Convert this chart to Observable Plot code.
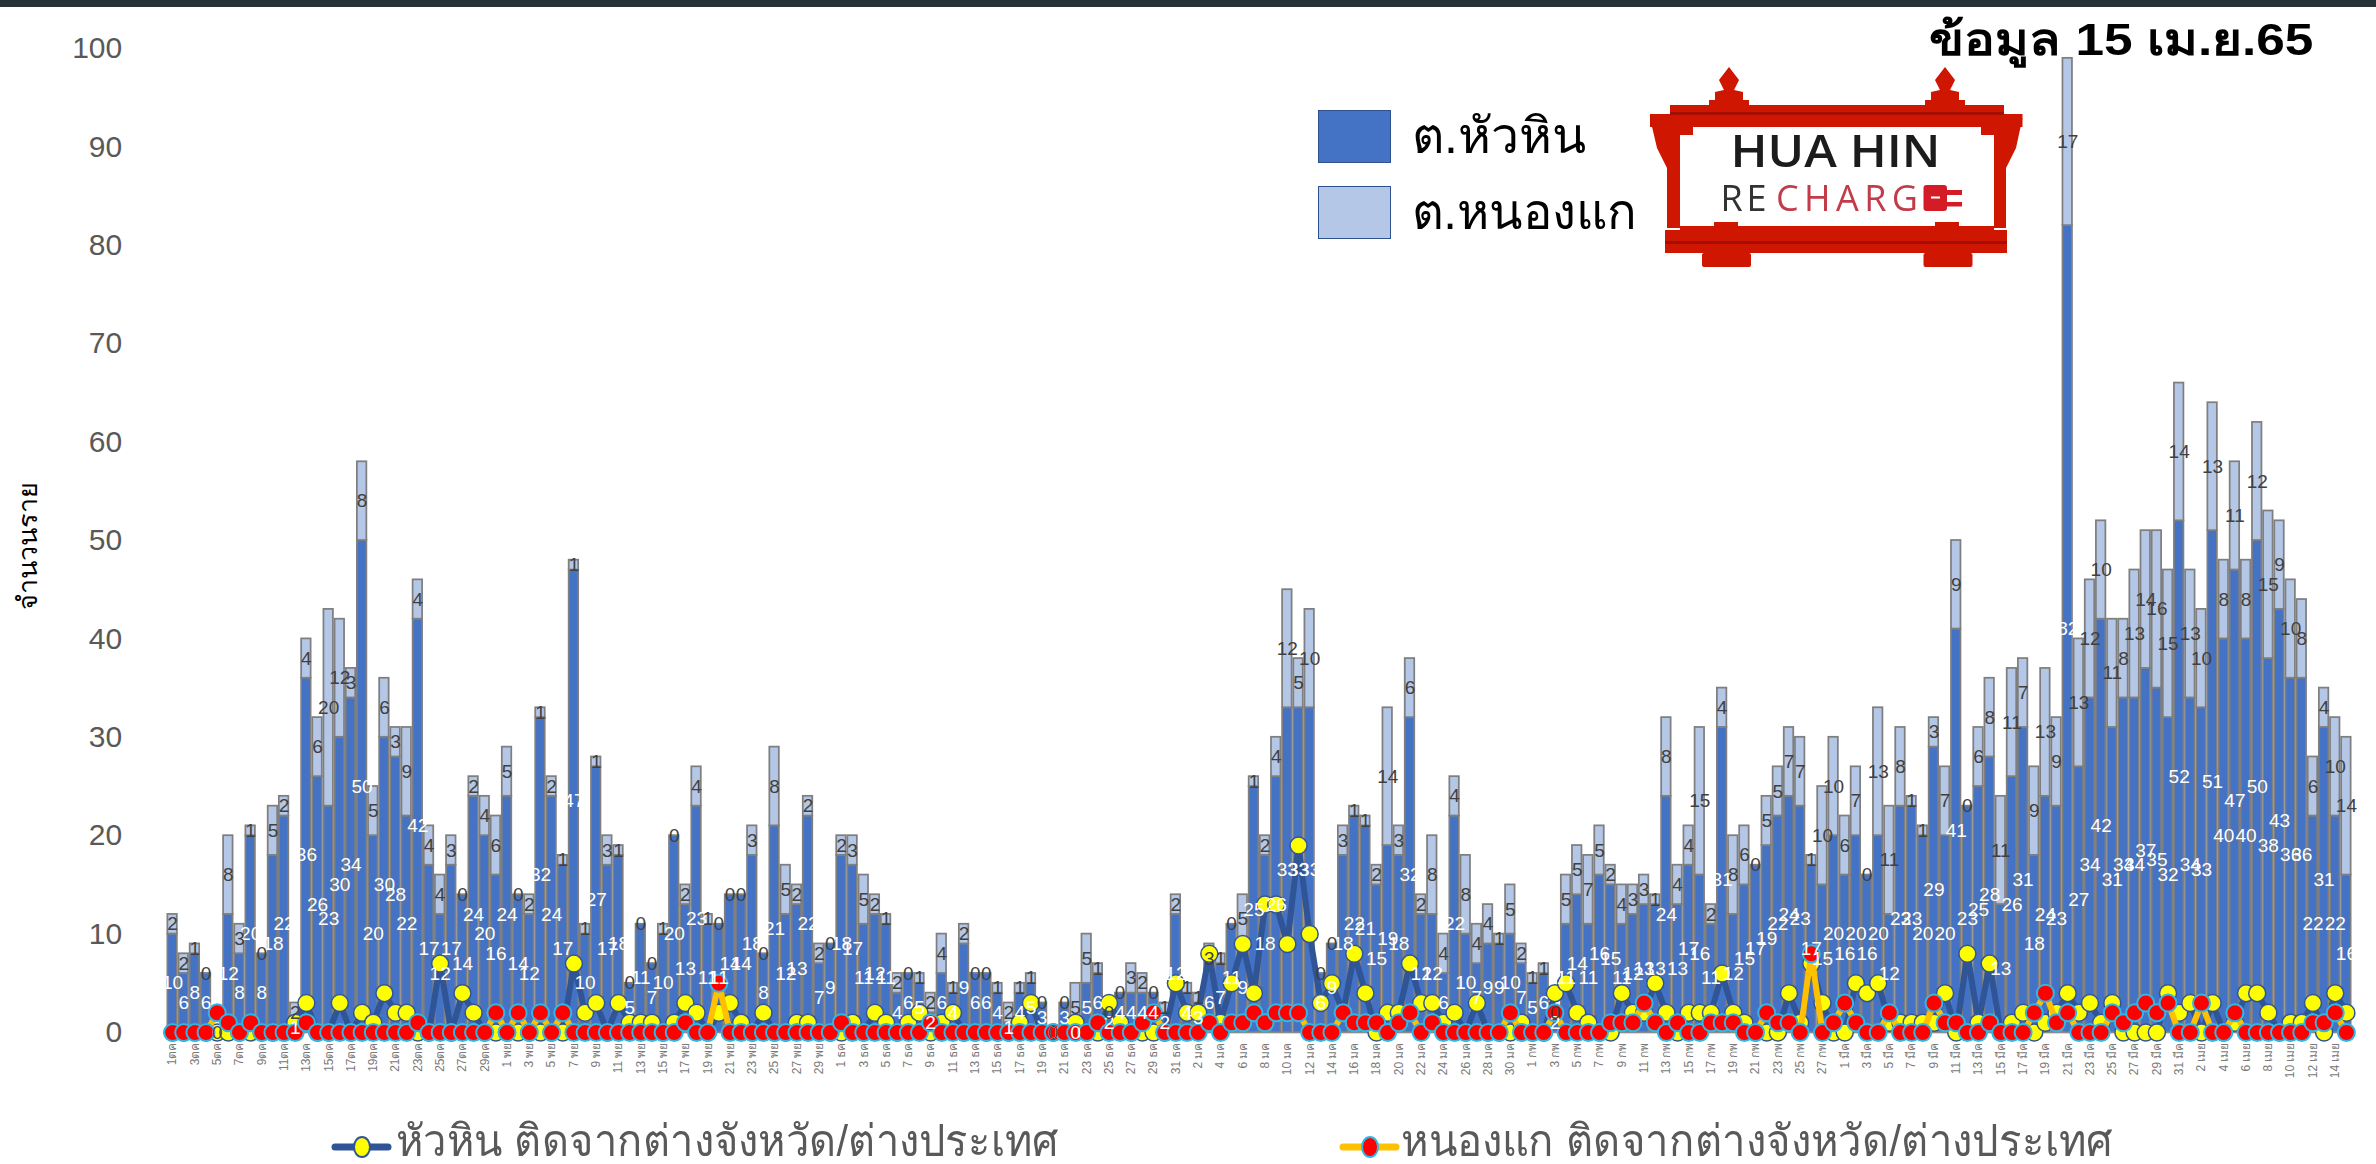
<!DOCTYPE html>
<html>
<head>
<meta charset="utf-8">
<script src="https://cdn.jsdelivr.net/npm/d3@7"></script>
<script src="https://cdn.jsdelivr.net/npm/@observablehq/plot@0.6"></script>
<style>
html,body{margin:0;padding:0;background:#fff;width:2376px;height:1164px;overflow:hidden;font-family:"Liberation Sans",Arial,sans-serif}
#wrap{position:relative;width:2376px;height:1164px}
#topbar{position:absolute;left:0;top:0;width:2376px;height:7px;background:#263238}
.abs{position:absolute;white-space:nowrap}
svg.plot{position:absolute;left:0;top:0}
</style>
</head>
<body>
<div id="wrap">
<div id="chart"></div>
<div id="topbar"></div>
<div class="abs" style="left:1929px;top:12px;font-size:45px;font-weight:bold;color:#000;line-height:56px;transform:scaleX(1.14);transform-origin:left top">ข้อมูล 15 เม.ย.65</div>
<div class="abs" style="left:1318px;top:110px;width:71px;height:51px;background:#4472c4;border:1.5px solid #2f528f"></div>
<div class="abs" style="left:1318px;top:186px;width:71px;height:51px;background:#b4c7e7;border:1.5px solid #2f528f"></div>
<div class="abs" style="left:1412px;top:104px;font-size:50px;color:#000;line-height:64px">ต.หัวหิน</div>
<div class="abs" style="left:1412px;top:180px;font-size:50px;color:#000;line-height:64px;transform:scaleX(0.98);transform-origin:left top">ต.หนองแก</div>
<svg class="abs" style="left:1640px;top:60px" width="392" height="215" viewBox="1640 60 392 215">
  <defs><filter id="soft"><feGaussianBlur stdDeviation="0.7"/></filter>
    <g id="spire"><polygon points="1729,67 1739,80 1734,90 1743,92 1743,100 1749,100 1749,107 1709,107 1709,100 1715,100 1715,92 1724,90 1719,80"/></g>
    <g id="foot"><rect x="1714" y="222" width="24" height="32"/><rect x="1702" y="253" width="49" height="14" rx="2"/></g>
  </defs>
  <g filter="url(#soft)">
  <g fill="#cf1206">
    <use href="#spire"/><use href="#spire" x="216"/>
    <rect x="1670" y="105" width="334" height="10"/>
    <rect x="1650" y="114" width="372.5" height="13"/>
    <polygon points="1650,118 1680,118 1680,228 1667,228 1667,168 1657,148"/>
    <polygon points="2022.5,118 1994,118 1994,228 2006,228 2006,168 2016,148"/>
    <rect x="1665" y="230" width="342" height="23"/>
    <rect x="1680" y="226" width="314" height="6"/>
    <use href="#foot"/><use href="#foot" x="221.5"/>
  </g>
  <rect x="1670" y="112" width="334" height="3" fill="#a50e06"/>
  <rect x="1665" y="241" width="342" height="3" fill="#a50e06"/>
  <polygon points="1680,127 1994,127 1994,226 1680,226" fill="#fff"/>
  <rect x="1680" y="127" width="13" height="8" fill="#cf1206"/>
  <rect x="1981" y="127" width="13" height="8" fill="#cf1206"/>
  <rect x="1714" y="222" width="24" height="5" fill="#cf1206"/>
  <rect x="1935" y="222" width="24" height="5" fill="#cf1206"/>
  <text x="1730.5" y="167" textLength="210" lengthAdjust="spacingAndGlyphs" font-family="Open Sans" font-weight="600" font-size="45" fill="#1a1a1a">HUA HIN</text>
  <text x="1720.5" y="211" textLength="46" font-family="Open Sans" font-size="36" fill="#333">RE</text>
  <text x="1776" y="211" textLength="142" font-family="Open Sans" font-size="36" fill="#c23b4a">CHARG</text>
  <rect x="1923.5" y="185" width="23.5" height="26" rx="3" fill="#d41f26"/>
  <rect x="1947" y="190" width="15" height="5" fill="#d41f26"/>
  <rect x="1947" y="202" width="15" height="4.5" fill="#d41f26"/>
  <rect x="1931" y="196.5" width="9" height="2" fill="#fff"/>
  </g>
</svg>
<svg class="abs" style="left:330px;top:1133px" width="64" height="28"><line x1="5" y1="14" x2="58" y2="14" stroke="#2f5597" stroke-width="7" stroke-linecap="round"/><ellipse cx="32" cy="14" rx="8" ry="10" fill="#ffff00" stroke="#2f5597" stroke-width="2"/></svg>
<div class="abs" style="left:396px;top:1113px;font-size:44px;color:#595959;line-height:56px;transform:scaleX(0.945);transform-origin:left top">หัวหิน ติดจากต่างจังหวัด/ต่างประเทศ</div>
<svg class="abs" style="left:1338px;top:1133px" width="64" height="28"><line x1="5" y1="14" x2="58" y2="14" stroke="#ffc000" stroke-width="7" stroke-linecap="round"/><ellipse cx="32" cy="14" rx="8" ry="10" fill="#ff0000" stroke="#2fb8e6" stroke-width="2"/></svg>
<div class="abs" style="left:1401px;top:1113px;font-size:44px;color:#595959;line-height:56px;transform:scaleX(0.95);transform-origin:left top">หนองแก ติดจากต่างจังหวัด/ต่างประเทศ</div>
</div>
<script>
const huaHin = [10,6,8,6,0,12,8,20,8,18, 22,1,36,26,23,30,34,50,20,30, 28,22,42,17,12,17,14,24,20,16,
  24,14,12,32,24,17,47,10,27,17, 18,5,11,7,10,20,13,23,11,11, 14,14,18,8,21,12,13,22,7,9,
  18,17,11,12,11,4,6,5,2,6, 4,9,6,6,4,1,4,5,3,0, 3,0,5,6,2,4,4,4,4,2,
  12,4,3,6,7,11,9,25,18,26, 33,33,33,6,9,18,22,21,15,19, 18,32,12,12,6,22,10,7,9,9,
  10,7,5,6,2,11,14,11,16,15, 11,12,13,13,24,13,17,16,11,31, 12,15,17,19,22,24,23,17,15,20,
  16,20,16,20,12,23,23,20,29,20, 41,23,25,28,13,26,31,18,24,23, 82,27,34,42,31,34,34,37,35,32,
  52,34,33,51,40,47,40,50,38,43, 36,36,22,31,22,16];
const nongKae = [2,2,1,0,0,8,3,1,0,5, 2,2,4,6,20,12,3,8,5,6, 3,9,4,4,4,3,0,2,4,6,
  5,0,2,1,2,1,1,1,1,3, 1,0,0,0,1,0,2,4,1,0, 0,0,3,0,8,5,2,2,2,0,
  2,3,5,2,1,2,0,1,2,4, 1,2,0,0,1,2,1,1,0,0, 0,5,5,1,0,0,3,2,0,1,
  2,1,1,3,1,0,5,1,2,4, 12,5,10,0,0,3,1,1,2,14, 3,6,2,8,4,4,8,4,4,1,
  5,2,1,1,0,5,5,7,5,2, 4,3,3,1,8,4,4,15,2,4, 8,6,0,5,5,7,7,1,10,10,
  6,7,0,13,11,8,1,1,3,7, 9,0,6,8,11,11,7,9,13,9, 17,13,12,10,11,8,13,14,16,15,
  14,13,10,13,8,11,8,12,15,9, 10,8,6,4,10,14];
const huaHinImported = [0,0,0,0,0,0,0,0,0,0, 0,1,3,0,0,3,0,2,1,4, 2,2,0,0,7,0,4,2,0,0,
  0,0,0,0,0,0,7,2,3,0, 3,1,1,1,0,1,3,2,0,2, 3,1,0,2,0,0,1,1,0,0,
  0,1,0,2,1,0,1,2,0,1, 2,0,0,0,0,0,1,3,0,0, 0,1,0,0,3,1,0,0,0,0,
  5,2,2,8,1,5,9,4,13,13, 9,19,10,3,5,2,8,4,0,2, 2,7,3,3,1,2,0,3,0,0,
  0,1,0,0,4,5,2,1,0,0, 4,2,2,5,2,0,2,2,2,6, 2,1,0,0,0,4,1,7,3,0,
  0,5,4,5,1,1,1,1,1,4, 0,8,1,7,0,1,2,0,1,2, 4,2,3,1,3,0,0,0,0,4,
  2,3,0,3,0,1,4,4,2,0, 1,1,3,0,4,2];
const nongKaeImported = [0,0,0,0,2,1,0,1,0,0, 0,0,1,0,0,0,0,0,0,0, 0,0,1,0,0,0,0,0,0,2,
  0,2,0,2,0,2,0,0,0,0, 0,0,0,0,0,0,1,0,0,5, 0,0,0,0,0,0,0,0,0,0,
  1,0,0,0,0,0,0,0,1,0, 0,0,0,0,0,0,0,0,0,0, 0,0,0,1,0,0,0,1,2,0,
  0,0,0,1,0,1,1,2,1,2, 2,2,0,0,0,2,1,1,1,0, 1,2,0,1,0,0,0,0,0,0,
  2,0,0,0,2,0,0,0,0,1, 1,1,3,1,0,1,0,0,1,1, 1,0,0,2,1,1,0,8,0,1,
  3,1,0,0,2,0,0,0,3,1, 1,0,0,1,0,0,0,2,4,1, 2,0,0,0,2,1,2,3,2,3,
  0,0,3,0,0,2,0,0,0,0, 0,0,1,1,2,0];
const tickLabels = ["1ตค","3ตค","5ตค","7ตค","9ตค","11ตค","13ตค","15ตค","17ตค","19ตค","21ตค","23ตค","25ตค","27ตค","29ตค",
  "1 พย","3 พย","5 พย","7 พย","9 พย","11 พย","13 พย","15 พย","17 พย","19 พย","21 พย","23 พย","25 พย","27 พย","29 พย",
  "1 ธค","3 ธค","5 ธค","7 ธค","9 ธค","11 ธค","13 ธค","15 ธค","17 ธค","19 ธค","21 ธค","23 ธค","25 ธค","27 ธค","29 ธค","31 ธค",
  "2 มค","4 มค","6 มค","8 มค","10 มค","12 มค","14 มค","16 มค","18 มค","20 มค","22 มค","24 มค","26 มค","28 มค","30 มค",
  "1 กพ","3 กพ","5 กพ","7 กพ","9 กพ","11 กพ","13 กพ","15 กพ","17 กพ","19 กพ","21 กพ","23 กพ","25 กพ","27 กพ",
  "1 มีค","3 มีค","5 มีค","7 มีค","9 มีค","11 มีค","13 มีค","15 มีค","17 มีค","19 มีค","21 มีค","23 มีค","25 มีค","27 มีค","29 มีค","31 มีค",
  "2 เมย","4 เมย","6 เมย","8 เมย","10 เมย","12 เมย","14 เมย"];
const yTicks = [0,10,20,30,40,50,60,70,80,90,100];
const yTitle = "จำนวนราย";

const rows = huaHin.map((h,i)=>({i,h,n:nongKae[i],hi:huaHinImported[i],ni:nongKaeImported[i]}));
const labelFont = {fontSize:19, fontFamily:"Liberation Sans"};
const chart = Plot.plot({
  width:2376, height:1164,
  marginLeft:165.7, marginRight:23.7, marginTop:48, marginBottom:132,
  style:{background:"transparent", fontFamily:"Liberation Sans"},
  x:{type:"band", domain:rows.map(d=>d.i), padding:0.15, align:0.5, round:false},
  y:{domain:[0,100]},
  marks:[
    Plot.axisY({ticks:yTicks, tickSize:0, tickPadding:44, fontSize:30, color:"#595959", label:null}),
    Plot.axisX({ticks:rows.filter(d=>d.i%2===0).map(d=>d.i), tickFormat:i=>tickLabels[i/2], tickSize:0, tickPadding:10, tickRotate:-90, fontSize:12, color:"#7a7a7a", label:null}),
    Plot.ruleY([0],{stroke:"#d9d9d9", strokeWidth:3}),
    Plot.barY(rows.filter(d=>d.h>0),{x:"i", y1:0, y2:"h", fill:"#4472c4", stroke:"#7f7f7f", strokeWidth:1.75}),
    Plot.barY(rows.filter(d=>d.n>0),{x:"i", y1:"h", y2:d=>d.h+d.n, fill:"#b4c7e7", stroke:"#7f7f7f", strokeWidth:1.75}),
    Plot.line(rows,{x:"i", y:"hi", stroke:"#2f5597", strokeWidth:6, curve:"linear"}),
    Plot.dot(rows,{x:"i", y:"hi", r:8.5, fill:"#ffff00", stroke:"#2f5597", strokeWidth:1.5}),
    Plot.line(rows,{x:"i", y:"ni", stroke:"#ffc000", strokeWidth:6, curve:"linear"}),
    Plot.dot(rows,{x:"i", y:"ni", r:8.5, fill:"#ff0000", stroke:"#2fb8e6", strokeWidth:2}),
    Plot.text(rows,{x:"i", y:d=>d.h/2, text:"h", fill:"#fff", ...labelFont}),
    Plot.text(rows,{x:"i", y:d=>d.h+d.n/2, text:"n", fill:"#404040", ...labelFont}),
    Plot.text([yTitle],{frameAnchor:"left", textAnchor:"middle", dx:-138, dy:5, rotate:-90, fontSize:27, fill:"#000"})
  ]
});
document.getElementById("chart").append(chart);
</script>
</body>
</html>
